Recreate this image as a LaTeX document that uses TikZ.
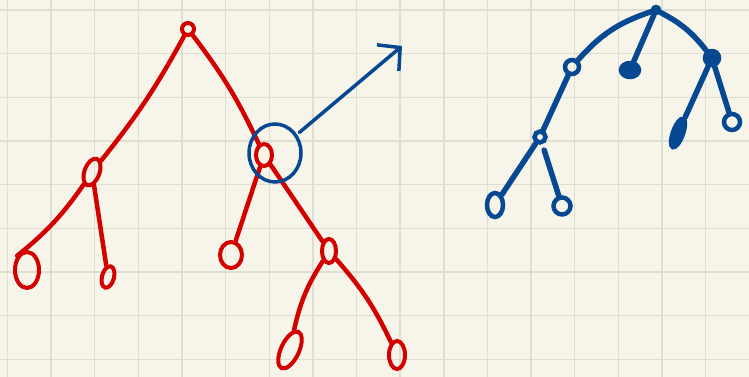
\documentclass[tikz,border=0pt]{standalone}
\usepackage{xcolor}
\usepackage{tikz}
\usetikzlibrary{arrows.meta,shapes.geometric}
\definecolor{paper}{RGB}{247,245,233}
\definecolor{gridgray}{RGB}{224,222,208}
\definecolor{penred}{RGB}{211,0,0}
\definecolor{penblue}{RGB}{6,72,146}
\tikzstyle{gridline}=[draw=gridgray, line width=1.4pt]
\tikzstyle{rdot}=[circle, draw=penred, line width=4pt, inner sep=0pt, minimum size=12pt]
\tikzstyle{rleaf}=[ellipse, draw=penred, line width=4pt, inner sep=0pt]
\tikzstyle{redge}=[draw=penred, line width=4.5pt, line cap=round]
\tikzstyle{bdot}=[circle, draw=penblue, line width=4.5pt, inner sep=0pt, minimum size=12pt]
\tikzstyle{bleaf}=[ellipse, draw=penblue, line width=4.5pt, inner sep=0pt]
\tikzstyle{bedge}=[draw=penblue, line width=5.5pt, line cap=round]

\begin{document}
\begin{tikzpicture}[x=1pt, y=-1pt]
\useasboundingbox (0,0) rectangle (749,377);
\fill[paper] (0,0) rectangle (749,377);
% squared paper
\foreach \i in {0,...,16}
  \draw[gridline] ({7.3+43.65*\i},0) -- ({7.3+43.65*\i},377);
\foreach \j in {0,...,8}
  \draw[gridline] (0,{10+43.65*\j}) -- (749,{10+43.65*\j});

% red tree
\node[rdot] (R) at (188,29) {};
\node[rleaf, minimum width=15pt, minimum height=28pt, rotate=-20] (A) at (92,172) {};
\node[rleaf, minimum width=16pt, minimum height=22pt] (B) at (264,155) {};
\node[rleaf, minimum width=24pt, minimum height=36pt] (L1) at (27,270) {};
\node[rleaf, minimum width=12pt, minimum height=22pt, rotate=-15] (L2) at (108,277) {};
\node[rleaf, minimum width=22pt, minimum height=26pt] (L3) at (231,255) {};
\node[rleaf, minimum width=14pt, minimum height=24pt] (C) at (329,251) {};
\node[rleaf, minimum width=18pt, minimum height=40pt, rotate=-25] (L4) at (290,350) {};
\node[rleaf, minimum width=16pt, minimum height=28pt] (L5) at (397,355) {};
\draw[redge] (R) to[bend left=5] (A);
\draw[redge] (R) to[bend left=6] (B);
\draw[redge] (A) to[bend left=8] (L1.north west);
\draw[redge] (A) -- (L2);
\draw[redge] (B) -- (L3);
\draw[redge] (B) -- (C);
\draw[redge] (C) to[bend right=10] (L4);
\draw[redge] (C) to[bend left=8] (L5);

% blue ring and arrow
\node[bleaf, line width=3.5pt, minimum width=52pt, minimum height=58pt] (focus) at (275,153) {};
\coordinate (tip) at (402,46);
\draw[bedge, line width=3.5pt, shorten <=3pt, -{Straight Barb[length=16pt,width=34pt]}] (focus) -- (tip);

% blue tree
\node[bdot, fill=penblue, minimum size=6pt] (BR) at (656,10) {};
\node[bleaf, fill=penblue, minimum width=18pt, minimum height=14pt] (BM) at (630,70) {};
\node[bdot, minimum size=14pt] (BA) at (572,67) {};
\node[bdot, fill=penblue, minimum size=14pt] (BB) at (712,58) {};
\node[bdot, minimum size=11pt] (BC) at (540,137) {};
\node[bleaf, minimum width=16pt, minimum height=24pt] (BL1) at (495,205) {};
\node[bdot, minimum size=17pt] (BL2) at (562,206) {};
\node[bleaf, fill=penblue, minimum width=10pt, minimum height=30pt, rotate=-20] (BL3) at (678,133) {};
\node[bdot, minimum size=16pt] (BL4) at (732,122) {};
\draw[bedge] (BR) to[bend right=15] (BA);
\draw[bedge] (BR) -- (BM);
\draw[bedge] (BR) to[bend left=12] (BB);
\draw[bedge] (BA) -- (BC);
\draw[bedge] (BC) -- (BL1);
\draw[bedge, shorten <=6pt] (BC) -- (BL2);
\draw[bedge] (BB) -- (BL3);
\draw[bedge] (BB) -- (BL4);
\end{tikzpicture}
\end{document}
